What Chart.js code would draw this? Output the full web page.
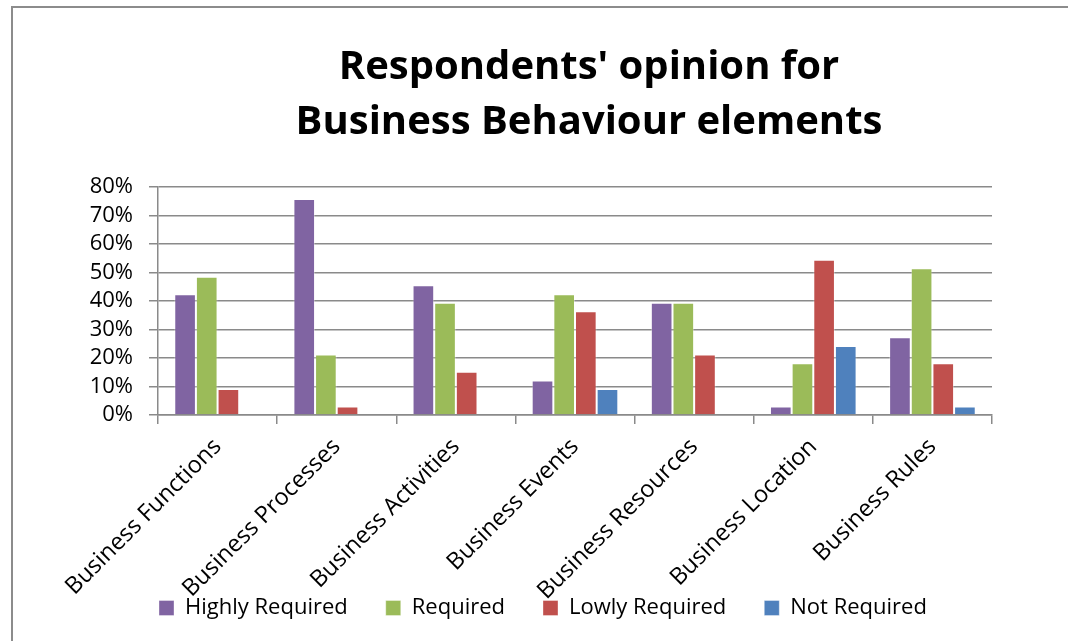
<!DOCTYPE html>
<html>
<head>
<meta charset="utf-8">
<script src="https://cdn.jsdelivr.net/npm/chart.js@4/dist/chart.umd.min.js"></script>
<style>
  html, body { margin: 0; padding: 0; background: #ffffff; overflow: hidden; }
  #wrap { position: relative; width: 1068px; height: 641px; }
  #frame {
    position: absolute; left: 11px; top: 6px; width: 1100px; height: 700px;
    border-top: 2px solid #8c8c8c; border-left: 2px solid #8c8c8c;
  }
  #chart { position: absolute; left: 0; top: 0; }
</style>
</head>
<body>
<div id="wrap">
  <div id="frame"></div>
  <canvas id="chart" width="1068" height="641"></canvas>
</div>
<script>
// Share of respondents (%) rating each business behaviour element
const categories = [
  'Business Functions', 'Business Processes', 'Business Activities',
  'Business Events', 'Business Resources', 'Business Location', 'Business Rules'
];
const highlyRequired = [42.4, 75.8, 45.5, 12.1, 39.4, 3.0, 27.3];
const required       = [48.5, 21.2, 39.4, 42.4, 39.4, 18.2, 51.5];
const lowlyRequired  = [9.1, 3.0, 15.2, 36.4, 21.2, 54.5, 18.2];
const notRequired    = [0, 0, 0, 9.1, 0, 24.2, 3.0];
const seriesNames = ['Highly Required', 'Required', 'Lowly Required', 'Not Required'];
const titleLines = ["Respondents' opinion for", 'Business Behaviour elements'];
const yTickStep = 10;
const yMax = 80;

const colors = ['#8064A2', '#9BBB59', '#C0504D', '#4F81BD'];
const FONT = "'Open Sans', 'Noto Sans', sans-serif";
const GRID = '#8a8a8a';
const TITLE_SHIFT = 14;

// Let the long axis labels run past their scale boxes (the rotated category
// names reach down beside the legend, the % labels reach left of the y box),
// and centre the title a little right of the plot centre.
const labelRoom = {
  id: 'labelRoom',
  afterLayout(chart) {
    const { x, y } = chart.scales;
    x.bottom = chart.height;
    y.left = 0;
    const t = chart.titleBlock;
    if (t) { t.left += TITLE_SHIFT; t.right += TITLE_SHIFT; }
  }
};

const seriesValues = [highlyRequired, required, lowlyRequired, notRequired];

new Chart(document.getElementById('chart'), {
  type: 'bar',
  data: {
    labels: categories,
    datasets: seriesNames.map((name, i) => ({
      label: name,
      data: seriesValues[i],
      backgroundColor: colors[i],
      borderColor: 'rgba(255,255,255,0.35)',
      borderWidth: 1,
      categoryPercentage: 0.727,
      barPercentage: 1.0
    }))
  },
  options: {
    responsive: false,
    animation: false,
    devicePixelRatio: 1,
    layout: { padding: { top: 0, left: 121, right: 76, bottom: 12 } },
    plugins: {
      tooltip: { enabled: false },
      title: {
        display: true,
        text: titleLines,
        fullSize: false,
        color: '#000000',
        font: { family: FONT, size: 40, weight: 'bold', lineHeight: 1.375 },
        padding: { top: 40, bottom: 37 }
      },
      legend: {
        display: true,
        position: 'bottom',
        align: 'start',
        fullSize: true,
        labels: {
          color: '#000000',
          font: { family: FONT, size: 22 },
          boxWidth: 15,
          boxHeight: 15,
          padding: 38
        }
      }
    },
    scales: {
      x: {
        grid: {
          display: true,
          offset: true,
          drawOnChartArea: false,
          drawTicks: true,
          tickLength: 9,
          color: GRID,
          lineWidth: 1.5
        },
        border: { display: true, color: GRID, width: 1.5 },
        ticks: {
          color: '#000000',
          font: { family: FONT, size: 23.5 },
          maxRotation: 45,
          minRotation: 45,
          autoSkip: false,
          padding: 9
        },
        afterFit(scale) { scale.height = 144; }
      },
      y: {
        min: 0,
        max: yMax,
        grid: {
          color: GRID,
          lineWidth: 1.5,
          drawTicks: true,
          tickLength: 9
        },
        border: { display: true, color: GRID, width: 1.5 },
        ticks: {
          stepSize: yTickStep,
          autoSkip: false,
          color: '#000000',
          font: { family: FONT, size: 22 },
          padding: 16,
          callback: (v) => v + '%'
        },
        afterFit(scale) { scale.width = 37; }
      }
    }
  },
  plugins: [labelRoom]
});
</script>
</body>
</html>
